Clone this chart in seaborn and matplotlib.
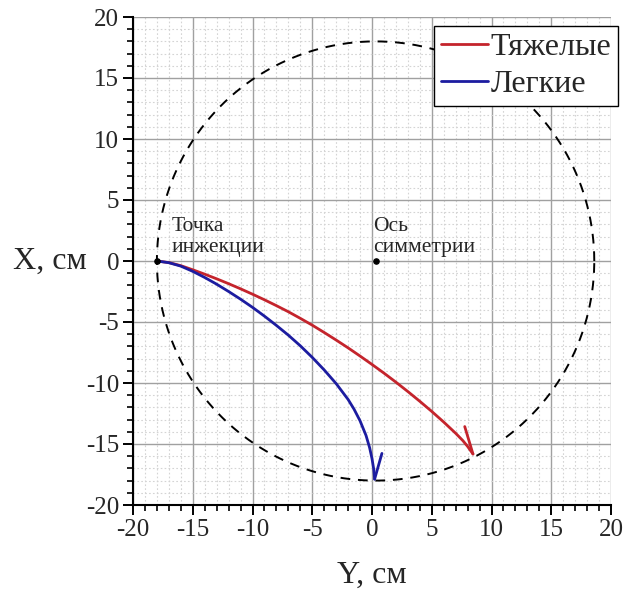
import numpy as np
import pandas as pd
import matplotlib
matplotlib.use("Agg")
import matplotlib.pyplot as plt
from matplotlib.ticker import MultipleLocator
import seaborn as sns

# ---- data ----
heavy_y = [-18.0, -17.0, -16.0, -15.0, -14.0, -13.0, -12.0, -11.0, -10.0, -9.0, -8.0, -7.0,
           -6.0, -5.0, -4.0, -3.0, -2.0, -1.0, 0.0, 1.0, 2.0, 3.0, 4.0, 5.0, 6.0, 7.0,
           7.6, 8.0, 8.45]
heavy_x = [0.0, -0.13, -0.38, -0.72, -1.08, -1.46, -1.86, -2.28, -2.72, -3.18, -3.66, -4.16,
           -4.70, -5.26, -5.86, -6.48, -7.12, -7.79, -8.48, -9.19, -9.93, -10.70, -11.50, -12.33,
           -13.20, -14.12, -14.72, -15.20, -15.82]
light_y = [-18.0, -17.0, -16.0, -15.0, -14.0, -13.0, -12.0, -11.0, -10.0, -9.0, -8.0, -7.0,
           -6.0, -5.0, -4.0, -3.0, -2.0, -1.5, -1.0, -0.5, -0.2, 0.0, 0.15, 0.22]
light_x = [0.0, -0.14, -0.42, -0.85, -1.35, -1.90, -2.50, -3.13, -3.80, -4.52, -5.28, -6.08,
           -6.95, -7.90, -8.93, -10.05, -11.35, -12.15, -13.10, -14.30, -15.30, -16.20, -17.10, -17.88]
heavy_hook_y = [8.45, 7.76]
heavy_hook_x = [-15.82, -13.57]
light_hook_y = [0.22, 0.83]
light_hook_x = [-17.88, -15.77]
circle_center = (0.3, 0.0)
circle_radius = (18.3, 18.0)
point_y = [-18.0, 0.3]
point_x = [0.0, 0.0]
point_labels = ["Точка\nинжекции", "Ось\nсимметрии"]
series_names = ["Тяжелые", "Легкие"]
ticks = [-20, -15, -10, -5, 0, 5, 10, 15, 20]

sns.set_style("white")
plt.rcParams["font.family"] = ["Liberation Serif", "DejaVu Serif"]
plt.rcParams["axes.unicode_minus"] = False

fig = plt.figure(figsize=(6.33, 5.93), dpi=100)
ax = fig.add_axes([133 / 633, 1 - 505 / 593, (611 - 133) / 633, (505 - 17) / 593])

ax.set_xlim(-20, 20)
ax.set_ylim(-20, 20)
ax.xaxis.set_major_locator(MultipleLocator(5))
ax.yaxis.set_major_locator(MultipleLocator(5))
ax.xaxis.set_minor_locator(MultipleLocator(1))
ax.yaxis.set_minor_locator(MultipleLocator(1))
ax.grid(which="major", color="#a0a0a0", linewidth=1.0, linestyle="-")
ax.grid(which="minor", color="#d4d4d4", linewidth=0.8, linestyle=(0, (1.5, 2.0)))
ax.set_axisbelow(True)

# dashed circle
t = np.linspace(0, 2 * np.pi, 400)
circ = pd.DataFrame({"y": circle_center[0] + circle_radius[0] * np.cos(t),
                     "x": circle_center[1] + circle_radius[1] * np.sin(t)})
ax.plot(circ["y"], circ["x"], color="black", linestyle=(0, (5, 4)), linewidth=1.4, zorder=2)

red = "#c4242c"
blue = "#1c1ca0"
df_h = pd.DataFrame({"Y": heavy_y, "X": heavy_x})
df_l = pd.DataFrame({"Y": light_y, "X": light_x})
sns.lineplot(data=df_h, x="Y", y="X", sort=False, estimator=None, color=red, linewidth=2.0,
             ax=ax, label=series_names[0], zorder=3)
sns.lineplot(data=df_l, x="Y", y="X", sort=False, estimator=None, color=blue, linewidth=2.0,
             ax=ax, label=series_names[1], zorder=3)
ax.plot(heavy_hook_y, heavy_hook_x, color=red, linewidth=2.0, zorder=3)
ax.plot(light_hook_y, light_hook_x, color=blue, linewidth=2.0, zorder=3)

ax.scatter(point_y, point_x, s=14, color="black", zorder=4)
ax.text(-16.8, 0.3, point_labels[0], fontsize=15.5, ha="left", va="bottom", linespacing=1.15)
ax.text(0.1, 0.3, point_labels[1], fontsize=15.5, ha="left", va="bottom", linespacing=1.15)

for side in ["top", "right"]:
    ax.spines[side].set_visible(False)
for side in ["left", "bottom"]:
    ax.spines[side].set_color("black")
    ax.spines[side].set_linewidth(1.5)

ax.set_xticks(ticks)
ax.set_yticks(ticks)
ax.tick_params(which="major", direction="out", length=7, width=1.4, color="black",
               labelsize=18, pad=3, left=True, bottom=True)
ax.tick_params(which="minor", direction="out", length=4, width=1.2, color="black",
               left=True, bottom=True)

ax.set_xlabel("Y, см", fontsize=23, labelpad=14)
ax.set_ylabel("X, см", fontsize=23, rotation=0, va="center", ha="center")
ax.yaxis.set_label_coords(-0.174, 0.5)

leg = ax.legend(loc="upper right", bbox_to_anchor=(618 / 633, 1 - 26 / 593),
                bbox_transform=fig.transFigure, fontsize=23, frameon=True,
                handlelength=1.45, handletextpad=0.08, borderpad=0.22,
                labelspacing=0.22, borderaxespad=0, fancybox=False)
leg.get_frame().set_edgecolor("black")
leg.get_frame().set_linewidth(1.0)
leg.get_frame().set_alpha(1.0)

fig.savefig("out.png", dpi=100)
